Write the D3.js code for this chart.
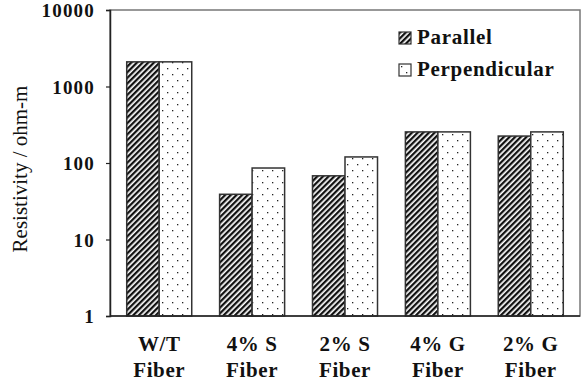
<!DOCTYPE html>
<html>
<head>
<meta charset="utf-8">
<script src="https://cdn.jsdelivr.net/npm/d3@7"></script>
<style>
  html, body { margin: 0; padding: 0; background: #fff; }
  svg { display: block; }
</style>
</head>
<body>
<script>
// Resistivity of fibre samples, measured parallel and perpendicular
const categories = ["W/T|Fiber", "4% S|Fiber", "2% S|Fiber", "4% G|Fiber", "2% G|Fiber"];
const parallel = [2100, 39, 68, 255, 225];
const perpendicular = [2100, 86, 120, 255, 255];
const seriesNames = ["Parallel", "Perpendicular"];
const yTicks = [1, 10, 100, 1000, 10000];

const W = 584, H = 385;
const margin = { top: 10, right: 4, bottom: 69, left: 110 };

const svg = d3.select("body").append("svg").attr("width", W).attr("height", H);
const defs = svg.append("defs");

// diagonal hatch for the parallel series
const hatch = defs.append("pattern")
  .attr("id", "hatch").attr("patternUnits", "userSpaceOnUse")
  .attr("width", 4).attr("height", 4)
  .attr("patternTransform", "rotate(45)");
hatch.append("rect").attr("width", 4).attr("height", 4).attr("fill", "#fff");
hatch.append("rect").attr("x", 0).attr("width", 2.3).attr("height", 4).attr("fill", "#111");

// sparse dot grid for the perpendicular series
const dots = defs.append("pattern")
  .attr("id", "dots").attr("patternUnits", "userSpaceOnUse")
  .attr("width", 10).attr("height", 12);
dots.append("rect").attr("width", 10).attr("height", 12).attr("fill", "#fff");
dots.append("rect").attr("x", 2).attr("y", 2).attr("width", 1.3).attr("height", 1.3).attr("fill", "#222");
dots.append("rect").attr("x", 7).attr("y", 8).attr("width", 1.3).attr("height", 1.3).attr("fill", "#222");

const fills = ["url(#hatch)", "url(#dots)"];

const x0 = d3.scaleBand().domain(categories)
  .range([margin.left, W - margin.right]).paddingInner(0.3).paddingOuter(0.18);
const x1 = d3.scaleBand().domain([0, 1]).range([0, x0.bandwidth()]);
const y = d3.scaleLog().domain([1, 10000]).range([H - margin.bottom, margin.top]);

const serif = "Liberation Serif, Times New Roman, serif";

// plot frame
svg.append("rect")
  .attr("x", margin.left).attr("y", margin.top)
  .attr("width", W - margin.right - margin.left)
  .attr("height", H - margin.bottom - margin.top)
  .attr("fill", "none").attr("stroke", "#777").attr("stroke-width", 1.5);

// bars
const rows = categories.map((c, i) => ({ c, v: [parallel[i], perpendicular[i]] }));
const g = svg.append("g");
rows.forEach(r => {
  r.v.forEach((v, j) => {
    g.append("rect")
      .attr("x", x0(r.c) + x1(j))
      .attr("y", y(v))
      .attr("width", x1.bandwidth())
      .attr("height", y(1) - y(v))
      .attr("fill", fills[j])
      .attr("stroke", "#333").attr("stroke-width", 1.5);
  });
});

// y axis with log minor ticks
const minor = [];
for (let d = 1; d < 10000; d *= 10) for (let k = 2; k <= 9; k++) minor.push(d * k);
const yAxis = svg.append("g").attr("transform", `translate(${margin.left},0)`);
yAxis.call(d3.axisLeft(y).tickValues(minor).tickSize(3).tickFormat(""));
yAxis.call(d3.axisLeft(y).tickValues(yTicks).tickSize(4).tickPadding(11).tickFormat(d3.format("d")));
yAxis.selectAll(".domain").attr("stroke", "#222").attr("stroke-width", 1.5);
yAxis.selectAll("line").attr("stroke", "#222").attr("stroke-width", 1.2);
yAxis.selectAll("text")
  .style("font-family", serif).style("font-weight", "bold").style("font-size", "19px")
  .attr("letter-spacing", 1.2).attr("dy", "0.36em")
  .attr("fill", "#111");

// x axis baseline
svg.append("line")
  .attr("x1", margin.left).attr("x2", W - margin.right)
  .attr("y1", y(1)).attr("y2", y(1))
  .attr("stroke", "#222").attr("stroke-width", 1.5);

// category labels (two lines)
categories.forEach(c => {
  const lines = c.split("|");
  const t = svg.append("text")
    .attr("text-anchor", "middle")
    .style("font-family", serif).style("font-weight", "bold").style("font-size", "21px")
    .attr("letter-spacing", 0.6)
    .attr("fill", "#111");
  lines.forEach((l, k) => {
    t.append("tspan").attr("x", x0(c) + x0.bandwidth() / 2).attr("y", 351 + k * 26).text(l);
  });
});

// y axis title
svg.append("text")
  .attr("transform", "translate(27,169) rotate(-90)")
  .attr("text-anchor", "middle")
  .style("font-family", serif).style("font-size", "21px").attr("fill", "#111")
  .text("Resistivity / ohm-m");

// legend
const legend = svg.append("g").attr("transform", "translate(399,32)");
seriesNames.forEach((n, i) => {
  const row = legend.append("g").attr("transform", `translate(0,${i * 32})`);
  row.append("rect").attr("width", 12).attr("height", 12)
    .attr("fill", fills[i]).attr("stroke", "#333").attr("stroke-width", 1.2);
  row.append("text").attr("x", 18).attr("y", 12)
    .style("font-family", serif).style("font-weight", "bold").style("font-size", "21px")
    .attr("letter-spacing", 0.7).attr("fill", "#111")
    .text(n);
});
</script>
</body>
</html>
